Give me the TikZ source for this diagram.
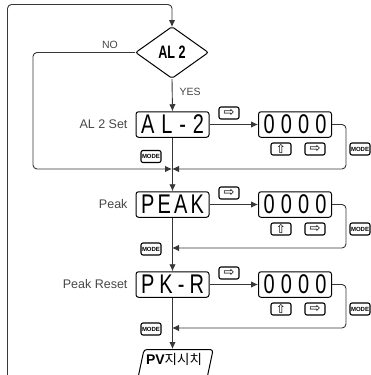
\documentclass[tikz,border=0pt]{standalone}
\usepackage{graphicx}
\usepackage{fontspec}
\setmainfont{Liberation Sans}
\newfontfamily\krfont{Noto Sans CJK KR}
\newfontfamily\symfont{DejaVu Sans}
\usepackage{tikz}
\usetikzlibrary{calc, shapes.geometric, arrows.meta}
\tikzset{>={Latex[length=7pt,width=6.5pt]}}
\definecolor{linegray}{RGB}{55, 55, 55}
\definecolor{textgray}{RGB}{70, 70, 70}
\newcommand{\keyright}{{\symfont\fontsize{13}{13}\selectfont ⇨}}
\newcommand{\keyup}{{\symfont\fontsize{12}{12}\selectfont ⇧}}
\newcommand{\keymode}{{\bfseries\fontsize{6}{6}\selectfont MODE}}
\newcommand{\lcdch}[1]{\scalebox{0.74}[1]{#1}}
\newcommand{\lcd}[4]{\hbox to 63pt{\lcdch{#1}\hfil\lcdch{#2}\hfil\lcdch{#3}\hfil\lcdch{#4}}}
\tikzset{
  flow/.style = {->, draw = linegray, line width = 0.9pt, rounded corners = 4pt},
  lcd/.style = {draw, line width = 1pt, rounded corners = 2.5pt, minimum height = 25.5pt,
    minimum width = 73pt, inner sep = 0pt, font = \fontsize{27}{27}\selectfont},
  keybox/.style = {draw, line width = 1.1pt, rounded corners = 2pt, minimum width = 20pt,
    minimum height = 12pt, inner sep = 0pt},
  lbl/.style = {text = textgray, font = \fontsize{12.5}{12.5}\selectfont},
  yesno/.style = {text = textgray, font = \fontsize{10.5}{10.5}\selectfont}
}

\begin{document}
\begin{tikzpicture}[x = 1pt, y = -1pt]
\useasboundingbox (0,0) rectangle (371,375);

\node[draw, diamond, line width = 1pt, rounded corners = 2pt, minimum width = 73pt, minimum height = 52pt, inner sep = 0pt] (dia) at (172, 52.5) {\scalebox{0.7}[1]{\bfseries\fontsize{18}{18}\selectfont AL 2}};
\node[yesno] (no) at (110, 45) {NO};
\node[yesno, anchor = west] (yes) at (176, 92) {YES};

% rows
\node[lcd] (al2) at (172.5, 124.5) {\lcd{A}{L}{-}{2}};
\node[lcd] (al2v) at (295, 124.5) {\lcd{0}{0}{0}{0}};
\node[lbl, anchor = east] (al2l) at (131, 124.5) {AL 2 Set};
\node[lcd] (pk) at (172.5, 204.5) {\lcd{P}{E}{A}{K}};
\node[lcd] (pkv) at (295, 204.5) {\lcd{0}{0}{0}{0}};
\node[lbl, anchor = east] (pkl) at (131, 204.5) {Peak};
\node[lcd] (pkr) at (172.5, 284.5) {\lcd{P}{K}{-}{R}};
\node[lcd] (pkrv) at (295, 284.5) {\lcd{0}{0}{0}{0}};
\node[lbl, anchor = east] (pkrl) at (131, 284.5) {Peak Reset};

\node[draw, trapezium, trapezium left angle = 78, trapezium right angle = 102, line width = 1pt, rounded corners = 3pt, inner xsep = 2pt, inner ysep = 4pt, text depth = 24pt, anchor = north] (pv) at (174, 349) {{\bfseries\fontsize{14}{14}\selectfont PV}{\krfont\fontsize{13.5}{13.5}\selectfont 지시치}};

% keys
\node[keybox] (k1) at (229, 113) {\keyright};
\node[keybox] (k1u) at (281, 149) {\keyup};
\node[keybox] (k1r) at (315, 149) {\keyright};
\node[keybox] (k1m) at (360, 149) {\keymode};
\node[keybox] (k1n) at (151, 156.5) {\keymode};
\node[keybox] (k2) at (229, 193) {\keyright};
\node[keybox] (k2u) at (281, 229) {\keyup};
\node[keybox] (k2r) at (315, 229) {\keyright};
\node[keybox] (k2m) at (360, 229) {\keymode};
\node[keybox] (k2n) at (151, 249) {\keymode};
\node[keybox] (k3) at (229, 273) {\keyright};
\node[keybox] (k3u) at (281, 309) {\keyup};
\node[keybox] (k3r) at (315, 309) {\keyright};
\node[keybox] (k3m) at (360, 309) {\keymode};
\node[keybox] (k3n) at (151, 329) {\keymode};

\coordinate (loopbot) at (7.5, 390);
\coordinate (merge) at (172, 169);
\coordinate (ret2) at (172, 248);
\coordinate (ret3) at (172, 328);

% connectors
\draw[flow, shorten > = -1pt] (loopbot) |- ([yshift = 21.5pt]dia.north) -- (dia.north);
\draw[flow] (dia.west) -| ([xshift = -139pt]merge) -- (merge);
\draw[flow] (dia.south) -- (al2.north);
\draw[flow] (al2.east) -- (al2v.west);
\draw[flow] (al2v.east) -| ([xshift = 174pt]merge) -- (merge);
\draw[flow] (al2.south) -- (pk.north);
\draw[flow] (pk.east) -- (pkv.west);
\draw[flow] (pkv.east) -| ([xshift = 174pt]ret2) -- (ret2);
\draw[flow] (pk.south) -- (pkr.north);
\draw[flow] (pkr.east) -- (pkrv.west);
\draw[flow] (pkrv.east) -| ([xshift = 174pt]ret3) -- (ret3);
\draw[flow] (pkr.south) -- (pkr.south |- pv.north);
\end{tikzpicture}
\end{document}
